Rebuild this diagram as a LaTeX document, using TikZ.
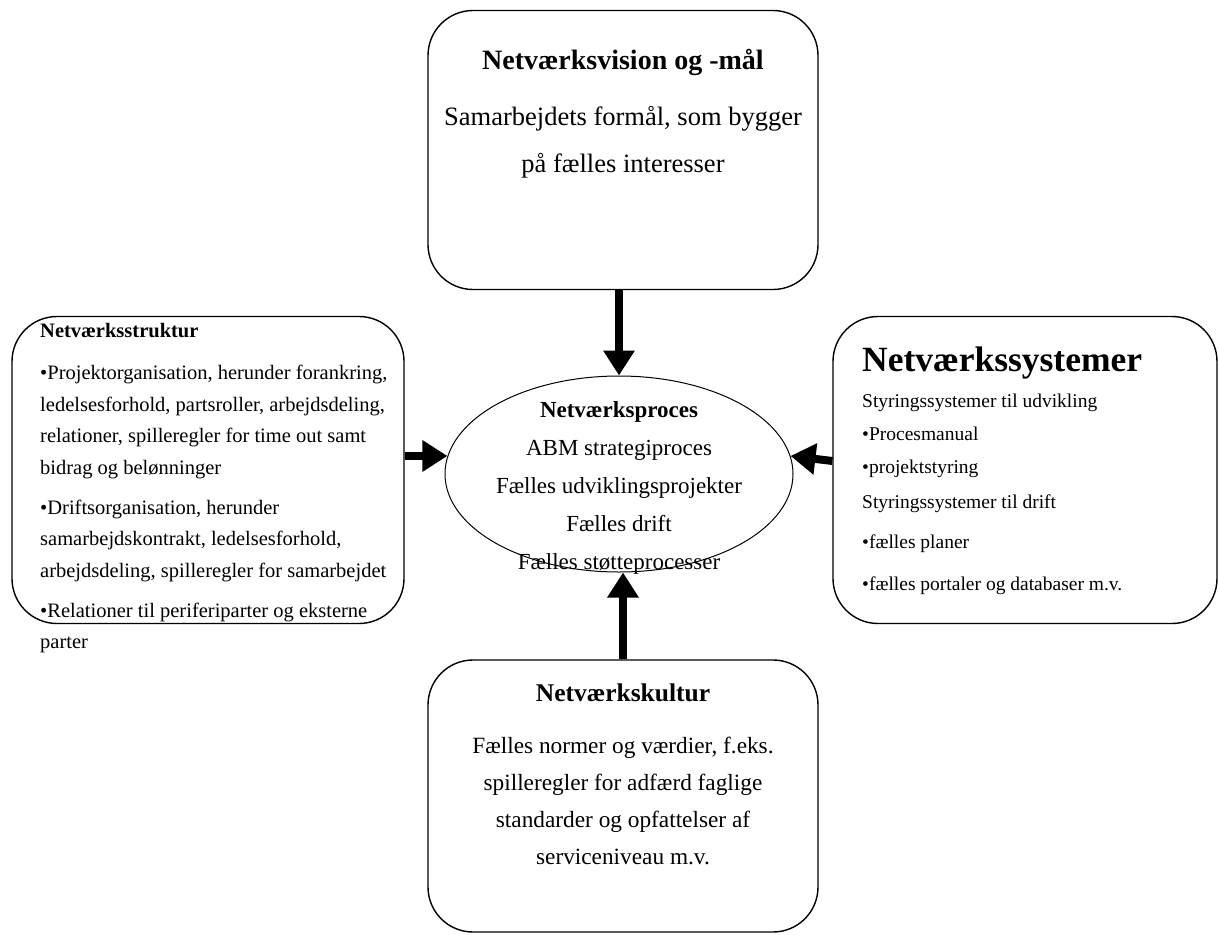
\documentclass[tikz,border=0pt]{standalone}
\usepackage{fontspec}
\setmainfont{Liberation Serif}
\usetikzlibrary{
    arrows.meta,
    positioning,
    shapes.geometric
}
\newcommand{\setfs}[2]{\fontsize{#1}{#2}\selectfont}
\tikzset{
    box/.style={draw, line width=1.4pt, rounded corners=45pt, inner sep=0pt},
    thickarrow/.style={line width=8pt, -{Triangle[length=25pt,width=30pt]}},
    boxtext/.style={inner sep=0pt, align=center},
    listtext/.style={inner sep=0pt, align=left, anchor=north west},
}

\begin{document}
\begin{tikzpicture}[x=1pt,y=-1pt]
    \useasboundingbox (0,0) rectangle (1219,935);
    % boxes and the process in the middle
    \node[box, minimum width=390pt, minimum height=279pt] (vision) at (623,150) {};
    \node[box, minimum width=392pt, minimum height=307pt] (struktur) at (208,470) {};
    \node[box, minimum width=384pt, minimum height=307pt] (systemer) at (1025,470) {};
    \node[box, minimum width=390pt, minimum height=272pt] (kultur) at (623,796) {};
    \node[draw, line width=1pt, ellipse, inner sep=0pt,
          minimum width=348pt, minimum height=196pt] (proces) at (619,474) {};

    % texts
    \node[boxtext, font=\setfs{26.5}{47}] (visiontext) at (623,114)
        {{\setfs{28}{47}\bfseries Netværksvision og -mål}\\[9pt]
         Samarbejdets formål, som bygger\\
         på fælles interesser};
    \node[boxtext, font=\setfs{23}{38}] (procestext) at (619,488)
        {\textbf{Netværksproces}\\
         ABM strategiproces\\
         Fælles udviklingsprojekter\\
         Fælles drift\\
         Fælles støtteprocesser};
    \node[listtext, font=\setfs{20.5}{31.5}] (strukturtext) at (40,323)
        {\textbf{Netværksstruktur}\\[11pt]
         •Projektorganisation, herunder forankring,\\
         ledelsesforhold, partsroller, arbejdsdeling,\\
         relationer, spilleregler for time out samt\\
         bidrag og belønninger\\[8.5pt]
         •Driftsorganisation, herunder\\
         samarbejdskontrakt, ledelsesforhold,\\
         arbejdsdeling, spilleregler for samarbejdet\\[8.5pt]
         •Relationer til periferiparter og eksterne\\
         parter};
    \node[listtext, font=\setfs{19.5}{33}] (systemertext) at (862,347)
        {{\setfs{35.5}{33}\bfseries Netværkssystemer}\\[2.5pt]
         Styringssystemer til udvikling\\
         •Procesmanual\\
         •projektstyring\\[2pt]
         Styringssystemer til drift\\[7pt]
         •fælles planer\\[9pt]
         •fælles portaler og databaser m.v.};
    \node[boxtext, font=\setfs{23.3}{37}] (kulturtext) at (623,774)
        {{\setfs{25.5}{37}\bfseries Netværkskultur}\\[15pt]
         Fælles normer og værdier, f.eks.\\
         spilleregler for adfærd faglige\\
         standarder og opfattelser af\\
         serviceniveau m.v.};

    % arrows into the process
    \draw[thickarrow] (vision.south -| proces.north) -- (proces.north);
    \draw[thickarrow] (kultur.north) -- (kultur.north |- proces.south);
    \draw[thickarrow] (struktur.east |- proces.174) -- (proces.174);
    \draw[thickarrow] ([yshift=-5pt]systemer.west |- proces.6) -- (proces.6);
\end{tikzpicture}
\end{document}
